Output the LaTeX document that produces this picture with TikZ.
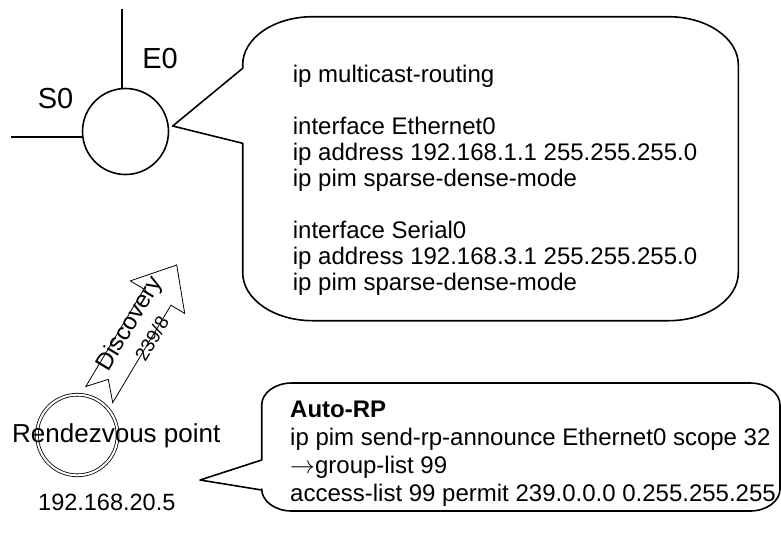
\documentclass[tikz,border=0pt]{standalone}
\usepackage{fontspec}
\setmainfont{Liberation Sans}
\begin{document}
\begin{tikzpicture}[x=1pt,y=-1pt,
  heavy/.style={line width=1.6pt},
  lbl/.style={inner sep=0pt, font=\fontsize{29}{34}\selectfont},
  cfg/.style={inner sep=0pt, anchor=base west, font=\fontsize{24}{26}\selectfont},
  thinline/.style={line width=0.8pt, line join=miter},
]
\useasboundingbox (0,0) rectangle (781,533);
\fill[white] (0,0) rectangle (781,533);

% router
\node[draw, circle, heavy, minimum size=86pt, inner sep=0pt] (router) at (125.5,131.5) {};
\coordinate (e0end) at (122,9);
\coordinate (s0end) at (11,137);
\draw[heavy] (e0end) -- (e0end |- router.north);
\draw[heavy] (s0end) -- (s0end -| router.west);
\node[lbl] (e0) at (160,59) {E0};
\node[lbl] (s0) at (55.5,99) {S0};

% callout 1
\draw[heavy, line join=round] (242.7,68.3) -- (242.7,64.7)
  arc[start angle=180, end angle=270, x radius=70, y radius=48] -- (668.3,16.7)
  arc[start angle=270, end angle=360, x radius=70, y radius=48] -- (738.3,272.7)
  arc[start angle=0, end angle=90, x radius=70, y radius=48] -- (312.7,320.7)
  arc[start angle=90, end angle=180, x radius=70, y radius=48] -- (242.7,143.3)
  -- (172.7,126) -- cycle;
\node[cfg] (cfg1) at (292.7,82) {\vtop{\hbox{ip multicast-routing}\hbox{}\hbox{interface Ethernet0}\hbox{ip address 192.168.1.1 255.255.255.0}\hbox{ip pim sparse-dense-mode}\hbox{}\hbox{interface Serial0}\hbox{ip address 192.168.3.1 255.255.255.0}\hbox{ip pim sparse-dense-mode}}};

% callout 2
\draw[heavy, line join=round] (261.7,460) -- (261.7,405)
  arc[start angle=180, end angle=270, x radius=30, y radius=22] -- (750,383)
  arc[start angle=270, end angle=360, x radius=30, y radius=22] -- (780,489)
  arc[start angle=0, end angle=90, x radius=30, y radius=22] -- (291.7,511)
  arc[start angle=90, end angle=180, x radius=30, y radius=22] -- (261.7,490)
  -- (200,480) -- cycle;
\node[cfg, font=\fontsize{24}{28}\selectfont] (cfg2) at (290,417) {\vtop{\hbox{\bfseries Auto-RP}\hbox{ip pim send-rp-announce Ethernet0 scope 32}\hbox{{\fontsize{27}{28}\selectfont$\rightarrow$}group-list 99}\hbox{access-list 99 permit 239.0.0.0 0.255.255.255}}};

% rendezvous point
\node[draw, circle, double, double distance=2pt, line width=0.8pt, minimum size=80.6pt, inner sep=0pt] (rp) at (77.3,435) {};
\node[inner sep=0pt, anchor=base west, font=\fontsize{26}{30}\selectfont] (rplabel) at (12,442) {Rendezvous point};
\node[inner sep=0pt, anchor=base west, font=\fontsize{23.5}{28}\selectfont] (rpaddr) at (38,510) {192.168.20.5};

% discovery notched arrow
\draw[thinline] (176.7,265) -- (184.7,313.4) -- (170.9,305.2) -- (112.7,402.6)
  -- (108.3,379.4) -- (85.8,386.5) -- (144,289.1) -- (130.3,280.9) -- cycle;
\node[rotate=59, inner sep=0pt, font=\fontsize{24}{28}\selectfont] (disc) at (130,324) {Discovery};
\node[rotate=59, inner sep=0pt, font=\fontsize{19}{22}\selectfont] (grp) at (151.8,338.3) {239/8};
\end{tikzpicture}
\end{document}
